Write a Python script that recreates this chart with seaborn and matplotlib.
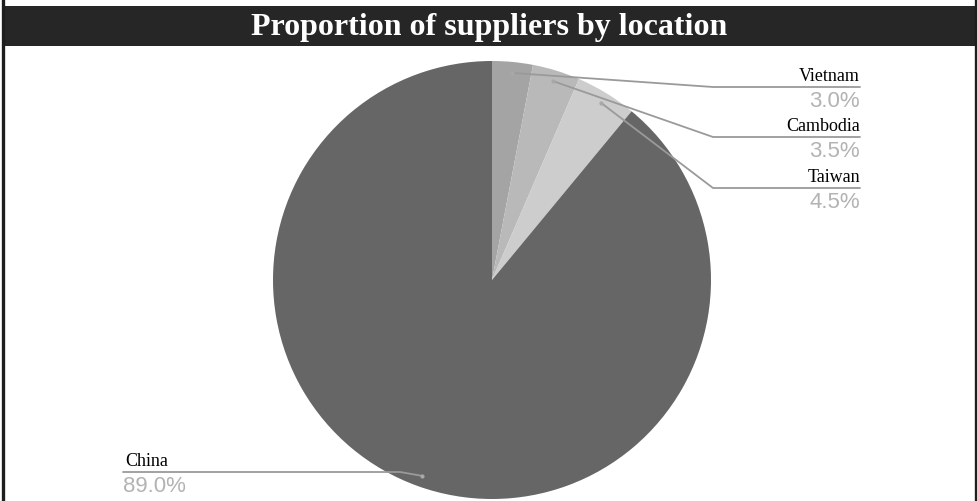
import numpy as np
import matplotlib
matplotlib.use("Agg")
import matplotlib.pyplot as plt
import seaborn as sns

# Supplier share by country (percent), in clockwise order from 12 o'clock
countries = ["Vietnam", "Cambodia", "Taiwan", "China"]
shares = [3.0, 3.5, 4.5, 89.0]
share_labels = ["3.0%", "3.5%", "4.5%", "89.0%"]
slice_colors = ["#a4a4a4", "#b9b9b9", "#cdcdcd", "#666666"]

title = "Proportion of suppliers by location"

sns.set_theme(style="white")
plt.rcParams["font.family"] = ["Liberation Serif", "DejaVu Serif"]

W, H = 977, 502
fig = plt.figure(figsize=(W / 100, H / 100), dpi=100)
fig.patch.set_facecolor("white")
ax = fig.add_axes([0, 0, 1, 1])


def Y(y):
    # convert a top-down pixel row to the axes' upward y
    return H - y


# pie
cx, cy, R = 492, Y(281), 219
wedges, _ = ax.pie(shares, colors=slice_colors, startangle=90, counterclock=False,
                   center=(cx, cy), radius=R, frame=True,
                   wedgeprops=dict(edgecolor="none", linewidth=0))
ax.set_xlim(0, W)
ax.set_ylim(0, H)
ax.set_aspect("equal")
ax.axis("off")

# frame and title band
ax.add_patch(plt.Rectangle((3, Y(47)), 972, 40, color="#262626", lw=0, zorder=1))
ax.plot([3, 3], [0, H], color="#1e1e1e", lw=2.4, zorder=5, solid_capstyle="butt")
ax.plot([975.5, 975.5], [0, H], color="#1e1e1e", lw=2.4, zorder=5, solid_capstyle="butt")
ax.text(489, Y(28), title, color="white", fontsize=23, fontweight="bold",
        ha="center", va="center", zorder=6)

# leader lines and labels
line_col = "#9a9a9a"
pct_col = "#b3b3b3"
right_rows = {"Vietnam": 88, "Cambodia": 138, "Taiwan": 189}
for w, name, lab in zip(wedges, countries, share_labels):
    mid = np.deg2rad((w.theta1 + w.theta2) / 2)
    ax_x = cx + 0.95 * R * np.cos(mid)
    ax_y = cy + 0.95 * R * np.sin(mid)
    ax.plot([ax_x], [ax_y], marker="o", ms=3, color="#a8a8a8", zorder=4, mec="none")
    if name in right_rows:
        ly = Y(right_rows[name])
        ax.plot([ax_x, 713, 860], [ax_y, ly, ly], color=line_col, lw=1.3, zorder=3)
        ax.text(860, ly + 3, name, fontsize=13, color="black", ha="right", va="bottom",
                zorder=6)
        ax.text(860, ly - 3, lab, fontsize=16, color=pct_col, ha="right", va="top",
                family=["Liberation Sans", "DejaVu Sans"], zorder=6)
    else:
        ly = Y(473)
        ax.plot([ax_x, 400, 123], [ax_y, ly, ly], color=line_col, lw=1.3, zorder=3)
        ax.text(125, ly + 3, name, fontsize=13, color="black", ha="left", va="bottom",
                zorder=6)
        ax.text(123, ly - 3, lab, fontsize=16, color=pct_col, ha="left", va="top",
                family=["Liberation Sans", "DejaVu Sans"], zorder=6)

fig.savefig("out.png", dpi=100, facecolor="white")
